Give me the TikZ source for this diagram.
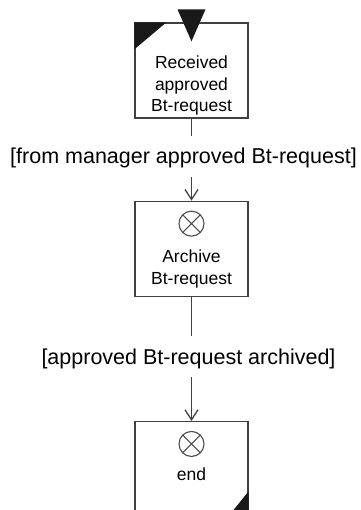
\documentclass[tikz,border=0pt]{standalone}
\usepackage{fontspec}
\setmainfont{Liberation Sans}
\usetikzlibrary{positioning,arrows.meta}

\tikzset{
  flowline/.style={draw=black!75,line width=1.3pt},
  flowarrow/.style={flowline,-{Straight Barb[length=10pt,width=13pt]}},
  flowbox/.style={flowline,minimum width=113pt,minimum height=95pt,inner sep=0pt},
  boxtext/.style={align=center,inner sep=0pt,font=\fontsize{17.5}{21.5}\selectfont},
  guard/.style={inner xsep=0pt,inner ysep=2pt,text height=26pt,text depth=11pt,
    font=\fontsize{21.5}{25}\selectfont},
  marker/.style={fill=black!90},
  opmark/.style={draw=black!70,line width=1.1pt}
}

\begin{document}
\begin{tikzpicture}[x=1pt,y=1pt]
  \useasboundingbox (0,0) rectangle (360,-510);
  \clip (0,0) rectangle (360,-510);
  % boxes
  \node[flowbox] (box1) at (191.5,-70.5) {};
  \node[flowbox,below=82pt of box1] (box2) {};
  \node[flowbox,below=124pt of box2] (box3) {};
  \node[boxtext] (rec) at (191.5,-85.5) {Received\\approved\\Bt-request};
  \node[boxtext] (arch) at (191.5,-269) {Archive\\Bt-request};
  \node[boxtext] (end) at (191.5,-474) {end};
  % guards
  \node[guard,anchor=base] (lab1) at (183.5,-164) {[from manager approved Bt-request]};
  \node[guard,anchor=base] (lab2) at (188.5,-364) {[approved Bt-request archived]};
  \draw[flowline] (box1.south) -- (box1.south |- lab1.north);
  \draw[flowarrow] (box1.south |- lab1.south) -- (box2.north);
  \draw[flowline] (box2.south) -- (box2.south |- lab2.north);
  \draw[flowarrow] (box2.south |- lab2.south) -- (box3.north);
  % markers
  \fill[marker] (box1.north west) -- ++(32,0) -- ++(-32,-27) -- cycle;
  \fill[marker] ([shift={(-14pt,13pt)}]box1.north) -- ([shift={(14pt,13pt)}]box1.north)
    -- ([yshift=-19pt]box1.north) -- cycle;
  \fill[marker] ([yshift=26pt]box3.south east) -- (box3.south east)
    -- ([xshift=-21pt]box3.south east) -- cycle;
  \foreach \b in {box2,box3}
    \draw[opmark] ([yshift=-23pt]\b.north) circle (12.5pt)
      ([yshift=-23pt]\b.north) ++(45:12.5pt) -- ++(225:25pt)
      ([yshift=-23pt]\b.north) ++(135:12.5pt) -- ++(-45:25pt);
\end{tikzpicture}
\end{document}
